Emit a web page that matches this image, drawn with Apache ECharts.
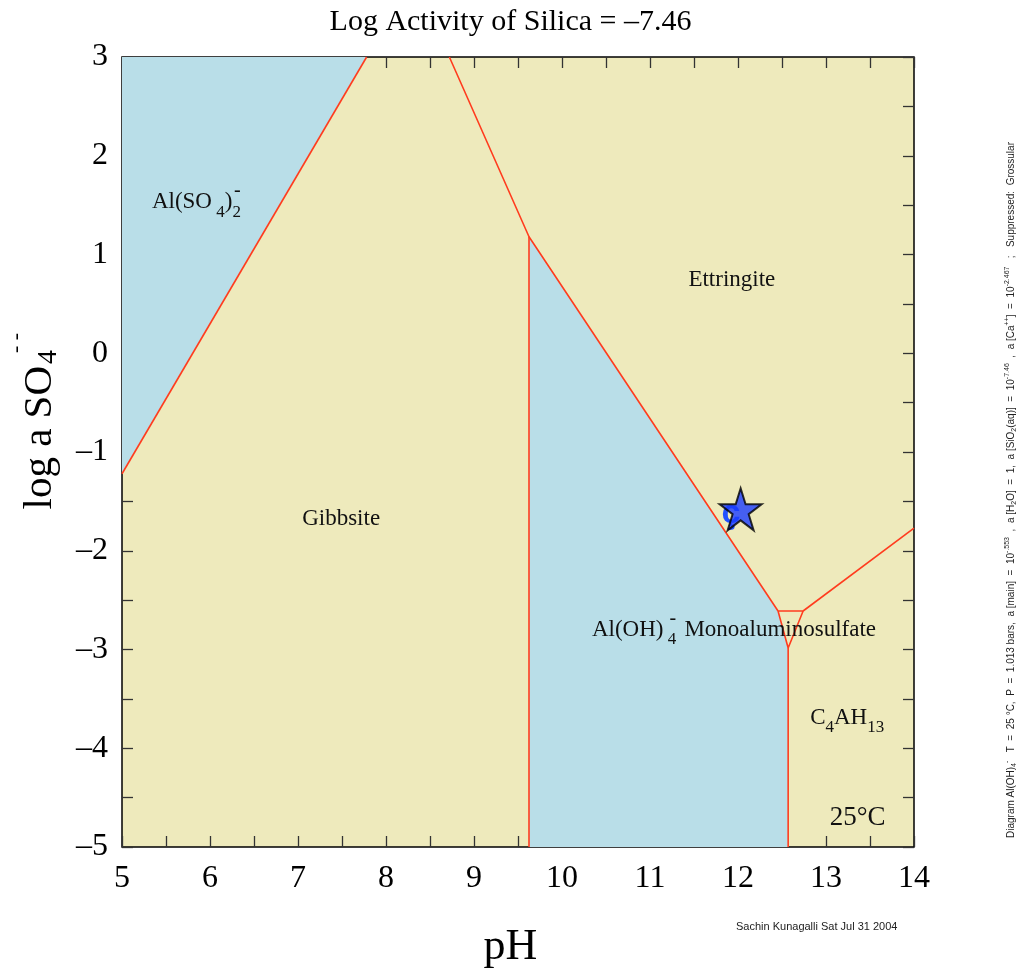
<!DOCTYPE html>
<html><head><meta charset="utf-8">
<script src="https://cdn.jsdelivr.net/npm/echarts@6/dist/echarts.min.js"></script>
<style>html,body{margin:0;padding:0;background:#fff}#c{width:1021px;height:978px}</style>
</head><body><div id="c"></div>
<script>
// ---- data ----
const xRange = [5, 14];
const yRange = [-5, 3];
const titleText = 'Log Activity of Silica = \u20137.46';
// phase boundaries (pH, log a SO4--)
const sulfateGibbsite = [[5, -1.22], [7.78, 3]];
const gibbsiteEttringite = [[8.72, 3], [9.625, 1.18], [12.455, -2.61]];
const gibbsiteAlOH = [[9.625, 1.18], [9.625, -5]];
const monoTriangle = [[12.455, -2.61], [12.74, -2.61], [12.57, -2.985], [12.455, -2.61]];
const alOHC4AH = [[12.57, -2.985], [12.57, -5]];
const ettringiteC4AH = [[12.74, -2.61], [14, -1.77]];
// aqueous-species fields (blue)
const alSO4Field = [[5, 3], [7.78, 3], [5, -1.22]];
const alOHField = [[9.625, 1.18], [12.455, -2.61], [12.57, -2.985], [12.57, -5], [9.625, -5]];
// sample point
const samplePoint = [[12.03, -1.58]];
// field labels
const regionLabels = [
  {text: 'Al(SO{sub| 4}){sub|2}', x: 5.34, y: 1.53, align: 'left'},
  {text: '{sup|-}', x: 6.31, y: 1.53, align: 'center'},
  {text: 'Ettringite', x: 11.93, y: 0.74, align: 'center'},
  {text: 'Gibbsite', x: 7.49, y: -1.68, align: 'center'},
  {text: 'Al(OH){sub| 4}', x: 10.34, y: -2.80, align: 'left'},
  {text: '{sup|-}', x: 11.26, y: -2.80, align: 'center'},
  {text: 'Monoaluminosulfate', x: 12.48, y: -2.80, align: 'center'},
  {text: 'C{sub|4}AH{sub|13}', x: 12.82, y: -3.69, align: 'left'},
  {text: '{big|25\u00b0C}', x: 13.36, y: -4.71, align: 'center'}
];
const sampleGlyph = [{text: '\u00e7', x: 11.92, y: -1.62}];

// ---- styles ----
const YELLOW = '#EEEABC';
const BLUE = '#B9DEE8';
const RED = '#FF3C1E';
const SERIF = '"Liberation Serif", "Times New Roman", serif';
const SANS = '"Liberation Sans", Arial, sans-serif';

const chart = echarts.init(document.getElementById('c'), null, {renderer: 'canvas'});

function fmt(v) { return v < 0 ? '\u2013' + Math.abs(v) : String(v); }

function axisCommon(showLabel) {
  return {
    type: 'value', interval: 1,
    axisLine: {show: false, onZero: false},
    splitLine: {show: false},
    axisTick: {show: true, inside: true, length: 11, lineStyle: {color: '#333', width: 1.3}},
    minorTick: {show: true, splitNumber: 2, length: 11, lineStyle: {color: '#333', width: 1.3}},
    axisLabel: {show: showLabel, formatter: fmt, color: '#000', fontFamily: SERIF, fontSize: 32}
  };
}

const xBottom = Object.assign(axisCommon(true), {min: xRange[0], max: xRange[1], position: 'bottom'});
xBottom.axisLabel.margin = 16;
const xTop = Object.assign(axisCommon(false), {min: xRange[0], max: xRange[1], position: 'top'});
const yLeft = Object.assign(axisCommon(true), {min: yRange[0], max: yRange[1], position: 'left'});
yLeft.axisLabel.margin = 14;
const yRight = Object.assign(axisCommon(false), {min: yRange[0], max: yRange[1], position: 'right'});

function lineSeries(data) {
  return {type: 'line', data: data, showSymbol: false, symbol: 'none', silent: true,
    lineStyle: {color: RED, width: 1.6}, z: 5, animation: false};
}
function fieldSeries(poly) {
  return {
    type: 'custom', silent: true, z: 1, data: [poly[0]],
    renderItem: function (params, api) {
      return {type: 'polygon', shape: {points: poly.map(p => api.coord(p))},
        style: {fill: BLUE, stroke: null}};
    }
  };
}
const richStyles = {
  sub: {fontSize: 17, fontFamily: SERIF, fill: '#111', padding: [20, 0, 0, 0]},
  sup: {fontSize: 20, fontFamily: SERIF, fill: '#111', padding: [0, 0, 22, 0]},
  big: {fontSize: 27, fontFamily: SERIF, fill: '#111'}
};

const option = {
  animation: false,
  backgroundColor: '#fff',
  title: {text: titleText, left: 'center', top: 2,
    textStyle: {fontFamily: SERIF, fontSize: 30, fontWeight: 'normal', color: '#000'}},
  grid: {left: 122, top: 57, right: 107, bottom: 131, show: true,
    backgroundColor: YELLOW, borderColor: '#000', borderWidth: 1.5},
  xAxis: [xBottom, xTop],
  yAxis: [yLeft, yRight],
  series: [
    fieldSeries(alSO4Field),
    fieldSeries(alOHField),
    lineSeries(sulfateGibbsite),
    lineSeries(gibbsiteEttringite),
    lineSeries(gibbsiteAlOH),
    lineSeries(monoTriangle),
    lineSeries(alOHC4AH),
    lineSeries(ettringiteC4AH),
    {
      type: 'custom', silent: true, z: 8, clip: false,
      data: regionLabels.map(l => [l.x, l.y]),
      renderItem: function (params, api) {
        const l = regionLabels[params.dataIndex];
        const p = api.coord([l.x, l.y]);
        return {type: 'text', x: p[0], y: p[1],
          style: {text: l.text, fill: '#111', fontFamily: SERIF, fontSize: 23,
            align: l.align, verticalAlign: 'middle', rich: richStyles}};
      }
    },
    {
      type: 'custom', silent: true, z: 9, clip: false,
      data: sampleGlyph.map(l => [l.x, l.y]),
      renderItem: function (params, api) {
        const l = sampleGlyph[params.dataIndex];
        const p = api.coord([l.x, l.y]);
        return {type: 'text', x: p[0], y: p[1],
          style: {text: l.text, fill: '#2250ff', fontFamily: SANS, fontSize: 34, fontWeight: 'bold',
            align: 'center', verticalAlign: 'middle'}};
      }
    },
    {
      type: 'scatter', data: samplePoint, z: 10, silent: true,
      symbol: 'path://M50,0 L61.2,34.5 L97.6,34.5 L68.2,55.9 L79.4,90.5 L50,69.1 L20.6,90.5 L31.8,55.9 L2.4,34.5 L38.8,34.5 Z',
      symbolSize: 42,
      itemStyle: {color: '#1A3CFF', borderColor: '#000', borderWidth: 2}
    }
  ],
  graphic: [
    {type: 'text', x: 40, y: 366, rotation: Math.PI / 2,
      style: {text: 'log a SO', fontFamily: SERIF, fontSize: 41, fill: '#000', align: 'right', verticalAlign: 'middle'}},
    {type: 'text', x: 49, y: 364, rotation: Math.PI / 2,
      style: {text: '4', fontFamily: SERIF, fontSize: 28, fill: '#000', align: 'left', verticalAlign: 'middle'}},
    {type: 'text', x: 16, y: 343, rotation: Math.PI / 2,
      style: {text: '- -', fontFamily: SERIF, fontSize: 22, fill: '#000', align: 'center', verticalAlign: 'middle'}},
    {type: 'text', left: 'center', top: 925,
      style: {text: 'pH', fontFamily: SERIF, fontSize: 44, fill: '#000'}},
    {type: 'text', x: 736, y: 927,
      style: {text: 'Sachin Kunagalli Sat Jul 31 2004', fontFamily: SANS, fontSize: 11, fill: '#222', align: 'left', verticalAlign: 'middle'}},
    {type: 'text', x: 1011, y: 838, rotation: Math.PI / 2,
      style: {
        text: 'Diagram Al(OH){s|4}{u|-}   T  =  25 \u00b0C,  P  =  1.013 bars,  a [main]  =  10{u|-.553}  ,  a [H{s|2}O]  =  1,  a [SiO{s|2}(aq)]  =  10{u|-7.46}  ,  a [Ca{u|++}]  =  10{u|-2.467}   ;   Suppressed:  Grossular',
        fontFamily: SANS, fontSize: 10, fill: '#222', align: 'left', verticalAlign: 'middle',
        rich: {
          s: {fontSize: 7, fontFamily: SANS, fill: '#222', padding: [6, 0, 0, 0]},
          u: {fontSize: 7, fontFamily: SANS, fill: '#222', padding: [0, 0, 7, 0]}
        }
      }}
  ]
};
chart.setOption(option);
</script>
</body></html>
